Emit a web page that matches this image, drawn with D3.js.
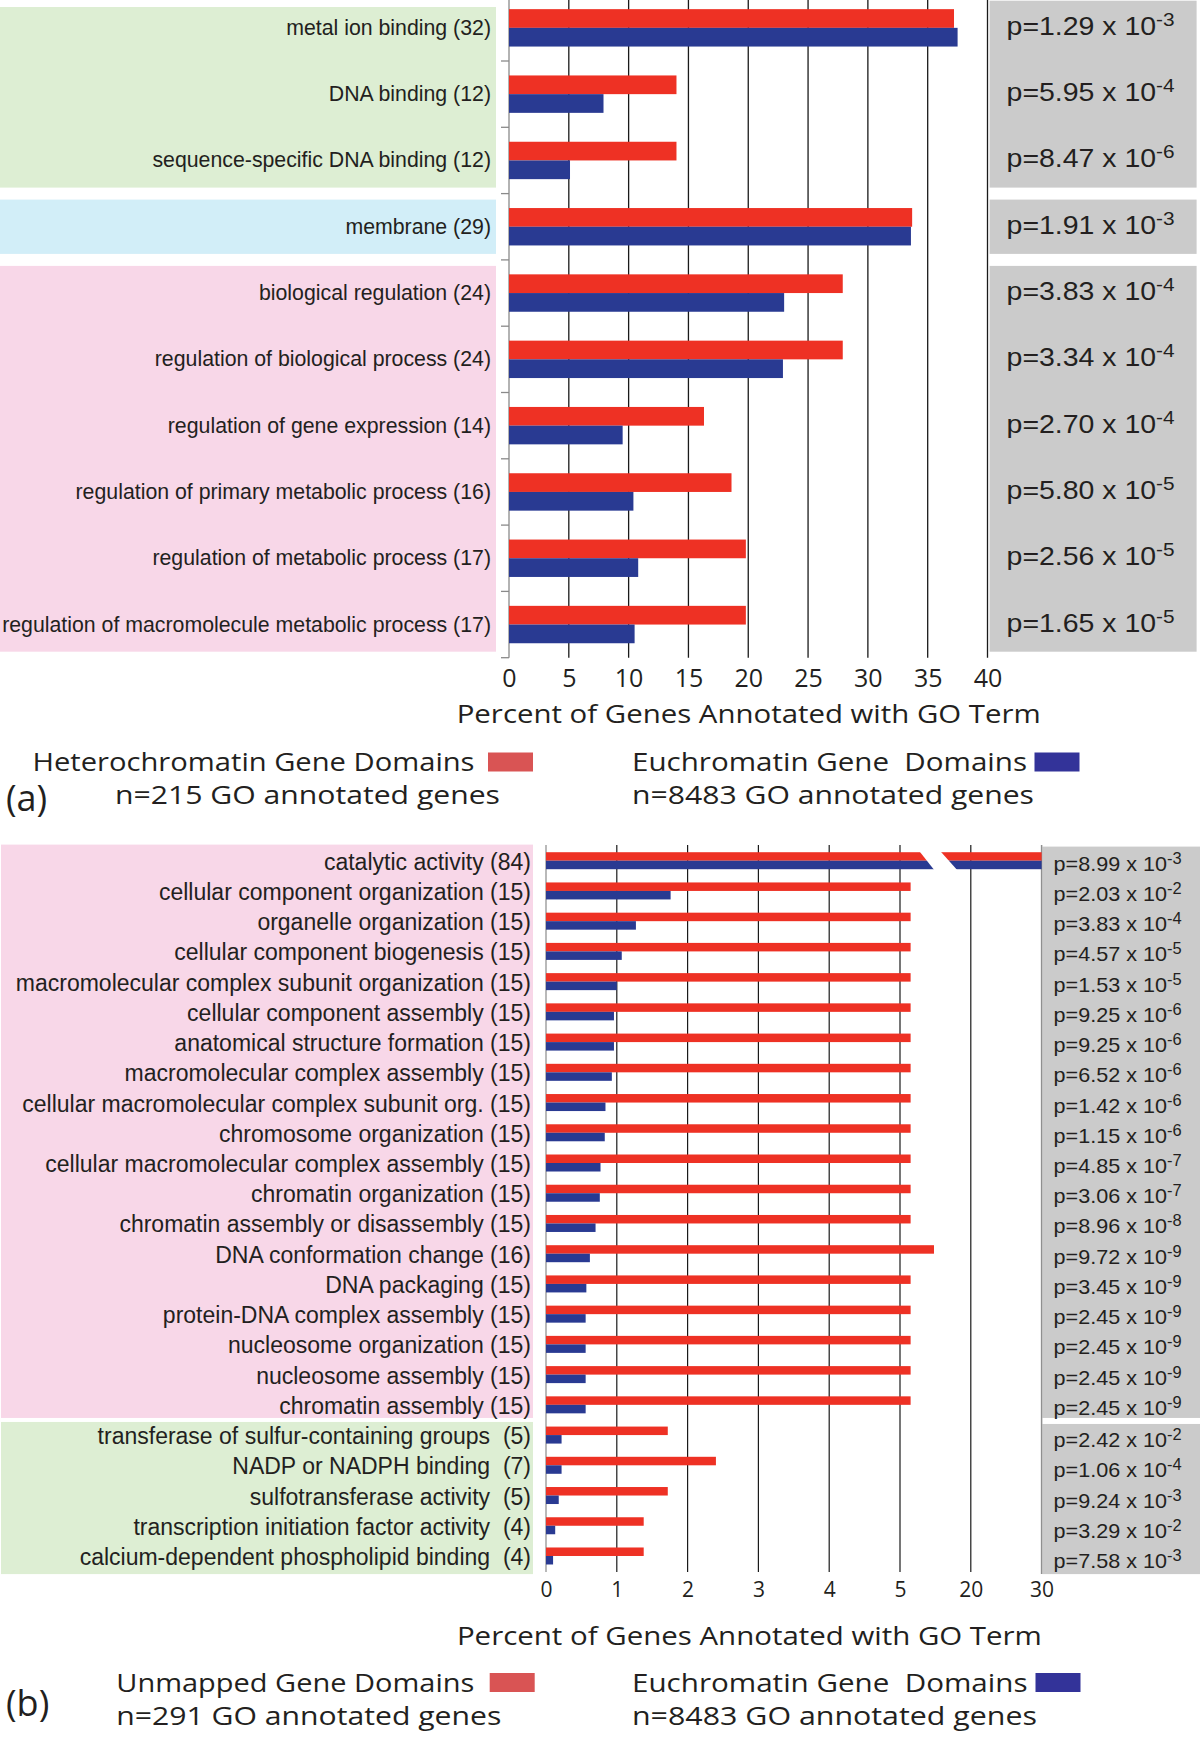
<!DOCTYPE html>
<html>
<head>
<meta charset="utf-8">
<script src="https://cdn.jsdelivr.net/npm/d3@7"></script>
<style>
  body { margin: 0; background: #fff; }
  svg { display: block; }
  text { fill: #231f20; }
  .lab { font-family: "Liberation Sans", Arial, sans-serif; white-space: pre; }
  .cal { font-family: "Open Sans", Lato, sans-serif; white-space: pre; }
  .pv { font-family: "Liberation Sans", Arial, sans-serif; }
</style>
</head>
<body>
<svg id="chart" width="1200" height="1738"></svg>
<script>

  // ---------- panel (a) data ----------
  var catsA = ["metal ion binding (32)", "DNA binding (12)", "sequence-specific DNA binding (12)",
               "membrane (29)", "biological regulation (24)", "regulation of biological process (24)",
               "regulation of gene expression (14)", "regulation of primary metabolic process (16)",
               "regulation of metabolic process (17)", "regulation of macromolecule metabolic process (17)"];
  var heteroA = [37.2, 14.0, 14.0, 33.7, 27.9, 27.9, 16.3, 18.6, 19.8, 19.8];
  var euchroA = [37.5, 7.9, 5.1, 33.6, 23.0, 22.9, 9.5, 10.4, 10.8, 10.5];
  var groupA = ["function", "function", "function", "component", "process", "process",
                "process", "process", "process", "process"];
  var pManA = ["1.29", "5.95", "8.47", "1.91", "3.83", "3.34", "2.70", "5.80", "2.56", "1.65"];
  var pExpA = ["-3", "-4", "-6", "-3", "-4", "-4", "-4", "-5", "-5", "-5"];
  var ticksA = [0, 5, 10, 15, 20, 25, 30, 35, 40];

  // ---------- panel (b) data ----------
  var catsB = ["catalytic activity (84)", "cellular component organization (15)", "organelle organization (15)",
               "cellular component biogenesis (15)", "macromolecular complex subunit organization (15)",
               "cellular component assembly (15)", "anatomical structure formation (15)",
               "macromolecular complex assembly (15)", "cellular macromolecular complex subunit org. (15)",
               "chromosome organization (15)", "cellular macromolecular complex assembly (15)",
               "chromatin organization (15)", "chromatin assembly or disassembly (15)",
               "DNA conformation change (16)", "DNA packaging (15)", "protein-DNA complex assembly (15)",
               "nucleosome organization (15)", "nucleosome assembly (15)", "chromatin assembly (15)",
               "transferase of sulfur-containing groups  (5)", "NADP or NADPH binding  (7)",
               "sulfotransferase activity  (5)", "transcription initiation factor activity  (4)",
               "calcium-dependent phospholipid binding  (4)"];
  var unmappedB = [30, 5.15, 5.15, 5.15, 5.15, 5.15, 5.15, 5.15, 5.15, 5.15, 5.15, 5.15, 5.15,
                   5.48, 5.15, 5.15, 5.15, 5.15, 5.15, 1.72, 2.40, 1.72, 1.38, 1.38];
  var euchroB = [30, 1.76, 1.27, 1.07, 1.00, 0.96, 0.96, 0.93, 0.84, 0.83, 0.77, 0.76, 0.70,
                 0.62, 0.57, 0.56, 0.56, 0.56, 0.56, 0.22, 0.22, 0.18, 0.13, 0.10];
  var groupB = ["process", "process", "process", "process", "process", "process", "process", "process",
                "process", "process", "process", "process", "process", "process", "process", "process",
                "process", "process", "process", "function", "function", "function", "function", "function"];
  var pManB = ["8.99", "2.03", "3.83", "4.57", "1.53", "9.25", "9.25", "6.52", "1.42", "1.15", "4.85", "3.06",
               "8.96", "9.72", "3.45", "2.45", "2.45", "2.45", "2.45", "2.42", "1.06", "9.24", "3.29", "7.58"];
  var pExpB = ["-3", "-2", "-4", "-5", "-5", "-6", "-6", "-6", "-6", "-6", "-7", "-7",
               "-8", "-9", "-9", "-9", "-9", "-9", "-9", "-2", "-4", "-3", "-2", "-3"];
  var ticksB = [0, 1, 2, 3, 4, 5, 20, 30];

  var groupColor = { "function": "#ddeed3", "component": "#d2eef8", "process": "#f8d7e8" };
  var red = "#ee3124", blue = "#293a92";
  var pGray = "#cbcbcb";

  var svg = d3.select("#chart");

  // split a row list into consecutive runs of the same group
  function runs(groups) {
    var out = [];
    groups.forEach(function (g, i) {
      if (out.length && out[out.length - 1].g === g) out[out.length - 1].end = i;
      else out.push({ g: g, start: i, end: i });
    });
    return out;
  }

  function legend(g, opts) {
    g.append("text").attr("class", "cal").attr("x", opts.x).attr("y", opts.y1)
      .attr("font-size", 26).attr("textLength", opts.w1).attr("lengthAdjust", "spacingAndGlyphs")
      .text(opts.t1);
    g.append("rect").attr("x", opts.sx).attr("y", opts.y1 - 18.5).attr("width", 45).attr("height", 19)
      .attr("fill", opts.color);
    g.append("text").attr("class", "cal").attr("x", opts.x2).attr("y", opts.y2)
      .attr("font-size", 26).attr("textLength", opts.w2).attr("lengthAdjust", "spacingAndGlyphs")
      .text(opts.t2);
  }

  // ======================= panel (a) =======================
  var xA = d3.scaleLinear().domain([0, 40]).range([509, 987.5]);
  var yA = d3.scaleBand().domain(catsA).range([-5.3, 657.7]);
  var bwA = yA.bandwidth(), barA = 18.7;
  var bottomA = 657.7;

  var gA = svg.append("g");

  runs(groupA).forEach(function (r) {
    var y0 = yA(catsA[r.start]) + 6, y1 = yA(catsA[r.end]) + bwA - 6;
    gA.append("rect").attr("x", 0).attr("y", Math.max(y0, 7)).attr("width", 496)
      .attr("height", y1 - Math.max(y0, 7)).attr("fill", groupColor[r.g]);
    gA.append("rect").attr("x", 989.6).attr("y", Math.max(y0, 0)).attr("width", 207)
      .attr("height", y1 - Math.max(y0, 0)).attr("fill", pGray);
  });

  // grid lines
  gA.selectAll(".grid").data(ticksA.slice(1)).enter().append("line")
    .attr("x1", function (d) { return xA(d); }).attr("x2", function (d) { return xA(d); })
    .attr("y1", 0).attr("y2", bottomA)
    .attr("stroke", "#1a1a1a").attr("stroke-width", 1.3);

  // y axis line and boundary ticks
  gA.append("line").attr("x1", xA(0)).attr("x2", xA(0)).attr("y1", 0).attr("y2", bottomA)
    .attr("stroke", "#8a8a8a").attr("stroke-width", 1.3);
  var bounds = catsA.map(function (c) { return yA(c); }).concat([bottomA]);
  gA.selectAll(".ytick").data(bounds.slice(1)).enter().append("line")
    .attr("x1", xA(0) - 8).attr("x2", xA(0))
    .attr("y1", function (d) { return d; }).attr("y2", function (d) { return d; })
    .attr("stroke", "#8a8a8a").attr("stroke-width", 1.3);

  // bars
  gA.selectAll(".barR").data(catsA).enter().append("rect")
    .attr("x", xA(0)).attr("y", function (d) { return yA(d) + bwA / 2 - barA; })
    .attr("width", function (d, i) { return xA(heteroA[i]) - xA(0); })
    .attr("height", barA).attr("fill", red);
  gA.selectAll(".barB").data(catsA).enter().append("rect")
    .attr("x", xA(0)).attr("y", function (d) { return yA(d) + bwA / 2; })
    .attr("width", function (d, i) { return xA(euchroA[i]) - xA(0); })
    .attr("height", barA).attr("fill", blue);

  // category labels
  gA.selectAll(".labA").data(catsA).enter().append("text").attr("class", "lab")
    .attr("x", 491).attr("y", function (d) { return yA(d) + bwA / 2 + 7; })
    .attr("text-anchor", "end").attr("font-size", 21.3).text(function (d) { return d; });

  // p values
  catsA.forEach(function (c, i) {
    var t = gA.append("text").attr("class", "pv").attr("x", 1006.6)
      .attr("y", yA(c) + bwA / 2 + 7).attr("font-size", 26)
      .attr("textLength", 168).attr("lengthAdjust", "spacingAndGlyphs");
    t.append("tspan").text("p=" + pManA[i] + " x 10");
    t.append("tspan").attr("dy", -9).attr("font-size", 19).text(pExpA[i]);
  });

  // x axis labels
  var axA = d3.axisBottom(xA).tickValues(ticksA).tickSize(0).tickPadding(12);
  var axGA = gA.append("g").attr("transform", "translate(0," + bottomA + ")").call(axA);
  axGA.select(".domain").remove();
  axGA.selectAll("text").attr("class", "cal").attr("font-size", 25).attr("fill", "#231f20");

  gA.append("text").attr("class", "cal").attr("x", 748.7).attr("y", 723.3)
    .attr("text-anchor", "middle").attr("font-size", 25)
    .attr("textLength", 584).attr("lengthAdjust", "spacingAndGlyphs")
    .text("Percent of Genes Annotated with GO Term");

  legend(gA, { x: 32.5, y1: 771, w1: 442, t1: "Heterochromatin Gene Domains", sx: 488, color: "#d95454",
               x2: 115, y2: 803.5, w2: 385, t2: "n=215 GO annotated genes" });
  legend(gA, { x: 632, y1: 771, w1: 395, t1: "Euchromatin Gene  Domains", sx: 1034.5, color: "#333399",
               x2: 632, y2: 803.5, w2: 402, t2: "n=8483 GO annotated genes" });
  gA.append("text").attr("class", "cal").attr("x", 6).attr("y", 811).attr("font-size", 36).text("(a)");

  // ======================= panel (b) =======================
  // 0-5 is linear; the last two grid steps are relabelled 20 and 30 (broken axis)
  var unitB = 70.8, x0B = 546;
  var xB = d3.scaleLinear().domain([0, 5.5, 20, 30])
    .range([x0B, x0B + 5.5 * unitB, x0B + 6 * unitB, x0B + 7 * unitB]);
  var yB = d3.scaleBand().domain(catsB).range([845.6, 1571.1]);
  var bwB = yB.bandwidth(), barB = 8.5;
  var bottomB = 1572;

  var gB = svg.append("g");

  runs(groupB).forEach(function (r) {
    var y0 = yB(catsB[r.start]) + 2, y1 = yB(catsB[r.end]) + bwB - 2;
    if (r.start === 0) y0 = y0 - 3;
    if (r.end === catsB.length - 1) y1 = y1 + 5;
    gB.append("rect").attr("x", 1).attr("y", y0).attr("width", 532).attr("height", y1 - y0)
      .attr("fill", groupColor[r.g]);
    gB.append("rect").attr("x", 1042.4).attr("y", y0 + 2).attr("width", 158).attr("height", y1 - y0 - 2)
      .attr("fill", pGray);
  });

  gB.selectAll(".grid").data(ticksB.slice(1, -1)).enter().append("line")
    .attr("x1", function (d) { return xB(d); }).attr("x2", function (d) { return xB(d); })
    .attr("y1", 845).attr("y2", bottomB)
    .attr("stroke", "#1a1a1a").attr("stroke-width", 1.2);
  gB.append("line").attr("x1", xB(30)).attr("x2", xB(30)).attr("y1", 845).attr("y2", bottomB + 2)
    .attr("stroke", "#8f8f8f").attr("stroke-width", 1.5);
  gB.append("line").attr("x1", xB(0)).attr("x2", xB(0)).attr("y1", 845).attr("y2", bottomB)
    .attr("stroke", "#8a8a8a").attr("stroke-width", 1.2);

  gB.selectAll(".barR").data(catsB).enter().append("rect")
    .attr("x", xB(0)).attr("y", function (d) { return yB(d) + bwB / 2 - barB; })
    .attr("width", function (d, i) { return xB(unmappedB[i]) - xB(0); })
    .attr("height", barB).attr("fill", red);
  gB.selectAll(".barB").data(catsB).enter().append("rect")
    .attr("x", xB(0)).attr("y", function (d) { return yB(d) + bwB / 2; })
    .attr("width", function (d, i) { return xB(euchroB[i]) - xB(0); })
    .attr("height", barB).attr("fill", blue);

  // axis break across the catalytic activity bars
  var mid = (xB(5) + xB(20)) / 2, cy = yB(catsB[0]) + bwB / 2;
  gB.append("polygon")
    .attr("points", [[mid - 16, cy - barB - 1], [mid + 5, cy - barB - 1],
                     [mid + 22, cy + barB + 1], [mid - 1, cy + barB + 1]].join(" "))
    .attr("fill", "#fff");

  gB.selectAll(".labB").data(catsB).enter().append("text").attr("class", "lab")
    .attr("x", 531).attr("y", function (d) { return yB(d) + bwB / 2 + 9; })
    .attr("text-anchor", "end").attr("font-size", 23).text(function (d) { return d; });

  catsB.forEach(function (c, i) {
    var t = gB.append("text").attr("class", "pv").attr("x", 1053.6)
      .attr("y", yB(c) + bwB / 2 + 10 + (groupB[i] === "function" ? 2 : 0)).attr("font-size", 21)
      .attr("textLength", 128).attr("lengthAdjust", "spacingAndGlyphs");
    t.append("tspan").text("p=" + pManB[i] + " x 10");
    t.append("tspan").attr("dy", -7).attr("font-size", 16).text(pExpB[i]);
  });

  var axB = d3.axisBottom(xB).tickValues(ticksB).tickSize(0).tickPadding(10);
  var axGB = gB.append("g").attr("transform", "translate(0," + bottomB + ")").call(axB);
  axGB.select(".domain").remove();
  axGB.selectAll("text").attr("class", "cal").attr("font-size", 21).attr("fill", "#231f20");

  gB.append("text").attr("class", "cal").attr("x", 749.4).attr("y", 1645)
    .attr("text-anchor", "middle").attr("font-size", 25)
    .attr("textLength", 585).attr("lengthAdjust", "spacingAndGlyphs")
    .text("Percent of Genes Annotated with GO Term");

  legend(gB, { x: 116.3, y1: 1691.5, w1: 358, t1: "Unmapped Gene Domains", sx: 489.7, color: "#d95454",
               x2: 116.3, y2: 1724.5, w2: 385, t2: "n=291 GO annotated genes" });
  legend(gB, { x: 632, y1: 1691.5, w1: 395.5, t1: "Euchromatin Gene  Domains", sx: 1035.5, color: "#333399",
               x2: 632, y2: 1724.5, w2: 405, t2: "n=8483 GO annotated genes" });
  gB.append("text").attr("class", "cal").attr("x", 6).attr("y", 1716).attr("font-size", 36).text("(b)");

</script>
</body>
</html>
